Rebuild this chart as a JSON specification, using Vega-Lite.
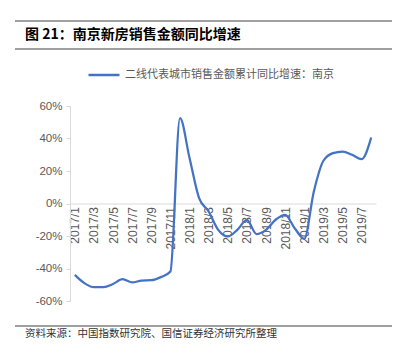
{
  "$schema": "https://vega.github.io/schema/vega-lite/v6.json",
  "padding": {"left": 14, "right": 14, "top": 20, "bottom": 5},
  "spacing": 8,
  "background": "white",
  "config": {"view": {"stroke": null}, "font": "Noto Sans CJK SC"},
  "resolve": {"scale": {"x": "independent", "y": "independent", "color": "independent"}},
  "vconcat": [
    {
      "width": 377,
      "height": 28,
      "layer": [
        {
          "data": {"values": [{"pos": 0}, {"pos": 1}]},
          "mark": {"type": "rule", "color": "#404040", "strokeWidth": 1.2},
          "encoding": {
            "y": {"field": "pos", "type": "quantitative", "scale": {"domain": [0, 1]}, "axis": null},
            "x": {"datum": 0, "type": "quantitative", "scale": {"domain": [0, 1]}, "axis": null},
            "x2": {"datum": 1}
          }
        },
        {
          "data": {"values": [{"label": "图 21：南京新房销售金额同比增速", "px": 0.0265, "py": 0.5}]},
          "mark": {"type": "text", "align": "left", "baseline": "middle", "fontSize": 14, "fontWeight": "bold", "font": "Noto Sans CJK SC", "color": "#000000"},
          "encoding": {
            "x": {"field": "px", "type": "quantitative", "scale": {"domain": [0, 1]}, "axis": null},
            "y": {"field": "py", "type": "quantitative", "scale": {"domain": [0, 1]}, "axis": null},
            "text": {"field": "label"}
          }
        }
      ]
    },
    {
      "width": 377,
      "height": 195,
      "data": {"values": [
        {"month": "2017/1", "value": -43.9},
        {"month": "2017/2", "value": -49.0},
        {"month": "2017/3", "value": -51.5},
        {"month": "2017/4", "value": -51.5},
        {"month": "2017/5", "value": -49.5},
        {"month": "2017/6", "value": -46.6},
        {"month": "2017/7", "value": -48.6},
        {"month": "2017/8", "value": -47.4},
        {"month": "2017/9", "value": -47.2},
        {"month": "2017/10", "value": -45.3},
        {"month": "2017/11", "value": -41.8},
        {"month": "2017/12", "value": 52.5},
        {"month": "2018/1", "value": 28.0},
        {"month": "2018/2", "value": 3.3},
        {"month": "2018/3", "value": -4.9},
        {"month": "2018/4", "value": -16.2},
        {"month": "2018/5", "value": -20.3},
        {"month": "2018/6", "value": -16.2},
        {"month": "2018/7", "value": -10.0},
        {"month": "2018/8", "value": -18.8},
        {"month": "2018/9", "value": -16.2},
        {"month": "2018/10", "value": -10.0},
        {"month": "2018/11", "value": -7.0},
        {"month": "2018/12", "value": -15.2},
        {"month": "2019/1", "value": -21.7},
        {"month": "2019/2", "value": 7.4},
        {"month": "2019/3", "value": 26.3},
        {"month": "2019/4", "value": 31.0},
        {"month": "2019/5", "value": 32.0},
        {"month": "2019/6", "value": 30.0},
        {"month": "2019/7", "value": 27.3},
        {"month": "2019/8", "value": 40.6}
      ]},
      "mark": {"type": "line", "interpolate": "monotone", "strokeWidth": 2.25},
      "encoding": {
        "x": {
          "field": "month", "type": "ordinal", "sort": null,
          "scale": {"type": "point", "range": [55, 361], "padding": 0.5},
          "axis": {
            "orient": "bottom", "offset": -97.5, "title": null, "grid": false,
            "values": ["2017/1", "2017/3", "2017/5", "2017/7", "2017/9", "2017/11", "2018/1", "2018/3", "2018/5", "2018/7", "2018/9", "2018/11", "2019/1", "2019/3", "2019/5", "2019/7"],
            "labelAngle": -90, "ticks": false, "labelPadding": 3,
            "domainColor": "#d9d9d9", "domainWidth": 1,
            "labelColor": "#595959", "labelFont": "Liberation Sans", "labelFontSize": 12
          }
        },
        "y": {
          "field": "value", "type": "quantitative",
          "scale": {"domain": [-60, 60], "nice": false},
          "axis": {
            "offset": -55, "title": null, "grid": false,
            "values": [-60, -40, -20, 0, 20, 40, 60],
            "labelExpr": "datum.value + '%'",
            "domainColor": "#d9d9d9", "tickColor": "#d9d9d9", "tickSize": 4, "labelPadding": 4,
            "labelColor": "#595959", "labelFont": "Liberation Sans", "labelFontSize": 11.5
          }
        },
        "color": {
          "datum": "二线代表城市销售金额累计同比增速：南京",
          "scale": {"range": ["#4472C4"]},
          "legend": {
            "orient": "none", "legendX": 72, "legendY": -48, "title": null,
            "symbolType": "stroke", "symbolSize": 961, "symbolStrokeWidth": 2.5,
            "labelFont": "Noto Sans CJK SC", "labelFontSize": 11, "labelColor": "#595959",
            "labelLimit": 400, "labelOffset": 4
          }
        }
      }
    },
    {
      "width": 377,
      "height": 30,
      "layer": [
        {
          "data": {"values": [{"pos": 0.633}]},
          "mark": {"type": "rule", "color": "#404040", "strokeWidth": 1.2},
          "encoding": {
            "y": {"field": "pos", "type": "quantitative", "scale": {"domain": [0, 1]}, "axis": null},
            "x": {"datum": 0, "type": "quantitative", "scale": {"domain": [0, 1]}, "axis": null},
            "x2": {"datum": 1}
          }
        },
        {
          "data": {"values": [{"label": "资料来源：中国指数研究院、国信证券经济研究所整理", "px": 0.0265, "py": 0.367}]},
          "mark": {"type": "text", "align": "left", "baseline": "middle", "fontSize": 10.5, "font": "Noto Sans CJK SC", "color": "#333333"},
          "encoding": {
            "x": {"field": "px", "type": "quantitative", "scale": {"domain": [0, 1]}, "axis": null},
            "y": {"field": "py", "type": "quantitative", "scale": {"domain": [0, 1]}, "axis": null},
            "text": {"field": "label"}
          }
        }
      ]
    }
  ]
}
